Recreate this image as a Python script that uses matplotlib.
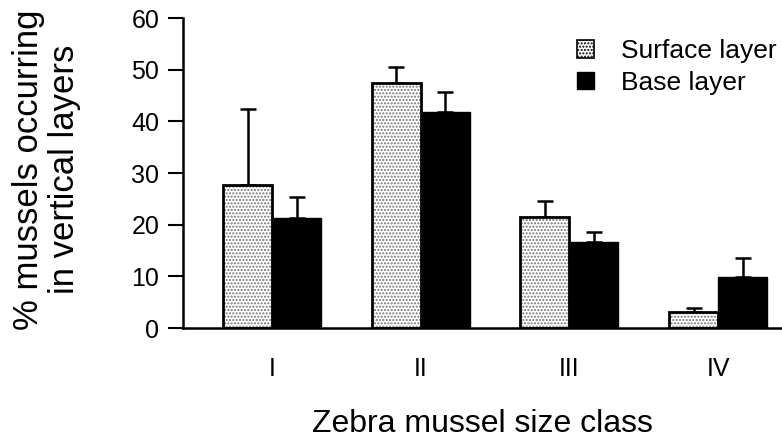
import matplotlib
matplotlib.use("Agg")
import matplotlib.pyplot as plt
from matplotlib.patches import Patch
import numpy as np

plt.rcParams["font.family"] = ["Liberation Sans", "DejaVu Sans"]

# values
size_classes = ["I", "II", "III", "IV"]
surface_mean = [27.7, 47.4, 21.5, 3.1]
surface_err = [14.8, 3.1, 3.1, 0.8]
base_mean = [21.3, 41.8, 16.6, 9.9]
base_err = [4.1, 3.9, 2.0, 3.6]
series_labels = ["Surface layer", "Base layer"]

x = np.arange(len(size_classes))
w = 0.33

fig = plt.figure(figsize=(7.82, 4.41), dpi=100)
ax = fig.add_axes([0.234, 0.256, 0.766, 0.703])

# stippled surface bars: dots first, then the black outline on top
ax.bar(x - w / 2, surface_mean, w, color="white", edgecolor="0.45",
       hatch=".....", linewidth=0, zorder=2)
ax.bar(x - w / 2, surface_mean, w, color="none", edgecolor="black",
       linewidth=2, zorder=3)
ax.bar(x + w / 2, base_mean, w, color="black", edgecolor="black",
       linewidth=1, zorder=3)

ax.errorbar(x - w / 2, surface_mean, yerr=[[0] * 4, surface_err], fmt="none",
            ecolor="black", elinewidth=1.8, capsize=6, capthick=1.8, zorder=1)
ax.errorbar(x + w / 2, base_mean, yerr=[[0] * 4, base_err], fmt="none",
            ecolor="black", elinewidth=1.8, capsize=6, capthick=1.8, zorder=1)

ax.set_xlim(-0.6, 3.43)
ax.set_ylim(0, 60)
ax.set_yticks(np.arange(0, 61, 10))
ax.set_xticks(x)
ax.set_xticklabels(size_classes)
ax.tick_params(axis="x", length=0, pad=21, labelsize=18)
ax.tick_params(axis="y", length=11, width=1.5, pad=6, labelsize=18)

for s in ["top", "right"]:
    ax.spines[s].set_visible(False)
ax.spines["left"].set_linewidth(1.8)
ax.spines["bottom"].set_linewidth(1.8)

ax.set_xlabel("Zebra mussel size class", fontsize=23, labelpad=20)
fig.text(0.059, 0.615, "% mussels occurring\nin vertical layers", rotation=90,
         ha="center", va="center", fontsize=25, multialignment="center",
         linespacing=1.12)

handles = [
    Patch(facecolor="white", edgecolor="black", hatch=".....", linewidth=1.2),
    Patch(facecolor="black", edgecolor="black"),
]
fig.legend(handles, series_labels, loc="upper left",
           bbox_to_anchor=(577 / 782, 1 - 39 / 441), frameon=False,
           fontsize=19, handlelength=0.65, handleheight=0.65,
           handletextpad=1.0, labelspacing=0.3, borderpad=0, borderaxespad=0)

fig.savefig("out.png", dpi=100)
